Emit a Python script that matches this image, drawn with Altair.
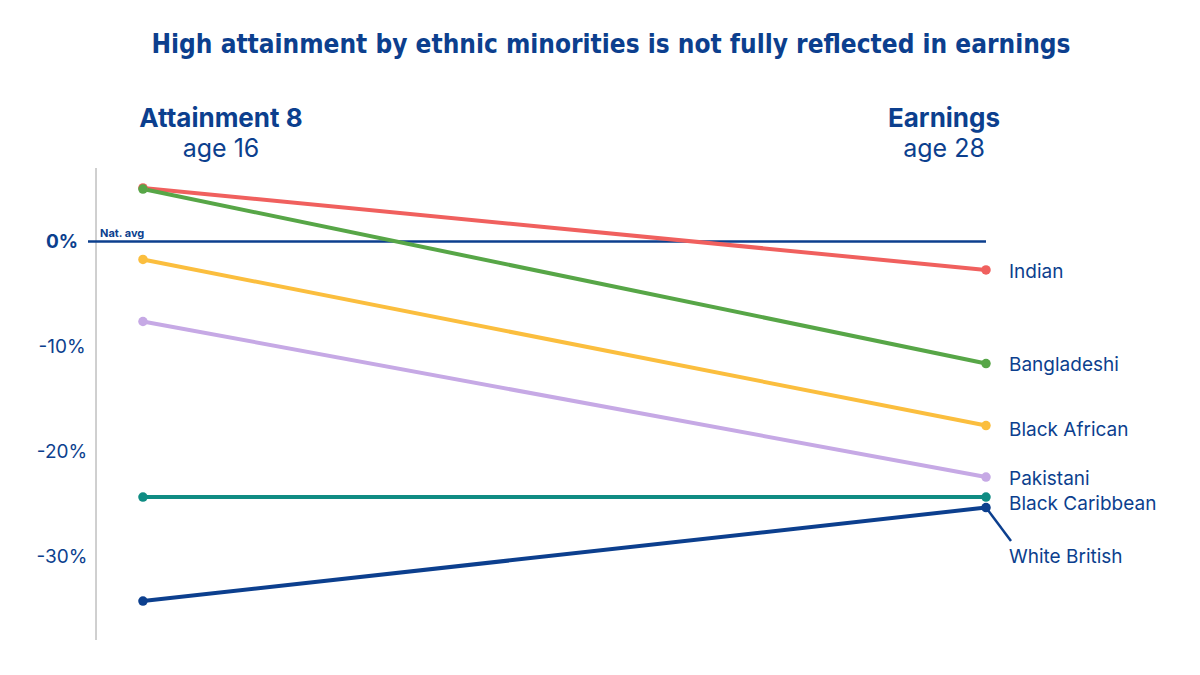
import altair as alt
import pandas as pd

groups = ["Indian", "Bangladeshi", "Black African", "Pakistani", "Black Caribbean", "White British"]
attainment_16 = [5.1, 5.0, -1.7, -7.6, -24.3, -34.2]
earnings_28 = [-2.7, -11.6, -17.5, -22.4, -24.3, -25.3]
colors = ["#F0605E", "#57A647", "#FBBE3E", "#C6A9E5", "#0F8C83", "#0C3F8E"]
y_ticks = [0, -10, -20, -30]

NAVY = "#0C3F8E"
FONT = "Inter"
TITLE_FONT = "DejaVu Sans Condensed, Liberation Sans Narrow, Roboto"

rows = []
for g, a, e in zip(groups, attainment_16, earnings_28):
    rows.append({"group": g, "stage": 0, "value": a})
    rows.append({"group": g, "stage": 1, "value": e})
df = pd.DataFrame(rows)
end_df = pd.DataFrame({"group": groups, "stage": [1] * len(groups), "value": earnings_28})
tick_df = pd.DataFrame({"v": y_ticks})

# label nudges (pixels) to keep end labels apart
label_dy = {"Indian": 2, "Bangladeshi": 1, "Black African": 4, "Pakistani": 2,
            "Black Caribbean": 7, "White British": 49}
end_df["dy"] = end_df["group"].map(label_dy)

W, H = 890, 472
YMIN, YMAX = -37.9, 7.0
PX_PER_UNIT = H / (YMAX - YMIN)
xscale = alt.Scale(domain=[-0.0557, 1], nice=False, zero=False)
yscale = alt.Scale(domain=[YMIN, YMAX], nice=False, zero=False)
color = alt.Color("group:N", scale=alt.Scale(domain=groups, range=colors), legend=None)

def X(field):
    return alt.X(field, scale=xscale, axis=None)

def Y(field):
    return alt.Y(field, scale=yscale, axis=None)

# hand-drawn y axis: domain line + tick labels
axis_line = alt.Chart(tick_df).mark_rule(color="#cccccc", strokeWidth=1).encode(
    x=alt.value(0), y=alt.value(0), y2=alt.value(H))
tick_bold = alt.Chart(tick_df).transform_filter("datum.v == 0").transform_calculate(
    lab="datum.v + '%'"
).mark_text(align="center", baseline="middle", fontSize=19, fontWeight="bold",
            color=NAVY, font=FONT).encode(x=alt.value(-34), y=Y("v:Q"), text="lab:N")
tick_norm = alt.Chart(tick_df).transform_filter("datum.v != 0").transform_calculate(
    lab="datum.v + '%'"
).mark_text(align="center", baseline="middle", fontSize=19, fontWeight="normal",
            color=NAVY, font=FONT).encode(x=alt.value(-34), y=Y("v:Q"), text="lab:N")

zero = alt.Chart(pd.DataFrame({"v": [0]})).mark_rule(color=NAVY, strokeWidth=2.5).encode(
    x=alt.value(-8), x2=alt.value(W), y=Y("v:Q"))

natavg = alt.Chart(pd.DataFrame({"v": [0], "t": ["Nat. avg"]})).mark_text(
    align="left", baseline="bottom", dy=-3, fontSize=11, fontWeight="bold", color=NAVY, font=FONT
).encode(x=alt.value(4), y=Y("v:Q"), text="t:N")

lines = alt.Chart(df).mark_line(strokeWidth=4).encode(
    x=X("stage:Q"), y=Y("value:Q"), color=color, detail="group:N")
points = alt.Chart(df).mark_circle(size=90, opacity=1).encode(
    x=X("stage:Q"), y=Y("value:Q"), color=color)

labels = alt.Chart(end_df).transform_calculate(
    ly=f"datum.value - datum.dy / {PX_PER_UNIT}"
).mark_text(
    align="left", baseline="middle", dx=23, fontSize=19, color=NAVY, font=FONT
).encode(x=X("stage:Q"), y=Y("ly:Q"), text="group:N")

wb = end_df[end_df["group"] == "White British"]
connector = alt.Chart(wb).mark_rule(color=NAVY, strokeWidth=2.5).encode(
    x=X("stage:Q"), y=Y("value:Q"), x2=alt.value(915), y2=alt.value(373))

def head(text, px, py, weight, size):
    return alt.Chart(pd.DataFrame({"t": [text]})).mark_text(
        fontSize=size, fontWeight=weight, color=NAVY, font=FONT, baseline="middle"
    ).encode(x=alt.value(px), y=alt.value(py), text="t:N")

heads = [head("Attainment 8", 125, -49, "bold", 26), head("age 16", 125, -19, "normal", 25),
         head("Earnings", 848, -49, "bold", 26), head("age 28", 848, -19, "normal", 25)]

title = alt.Chart(pd.DataFrame({"t": ["High attainment by ethnic minorities is not fully reflected in earnings"]})).mark_text(
    fontSize=26, fontWeight="bold", color=NAVY, font=TITLE_FONT, baseline="middle"
).encode(x=alt.value(515), y=alt.value(-123), text="t:N")

chart = alt.layer(axis_line, zero, natavg, lines, connector, points, labels,
                  tick_bold, tick_norm, *heads, title).properties(
    width=W, height=H,
    autosize=alt.AutoSizeParams(type="none"),
    padding={"left": 96, "top": 168, "right": 214, "bottom": 35},
    background="white",
).configure_view(strokeWidth=0)

chart.save("out.html", embed_options={"renderer": "svg", "actions": False})
